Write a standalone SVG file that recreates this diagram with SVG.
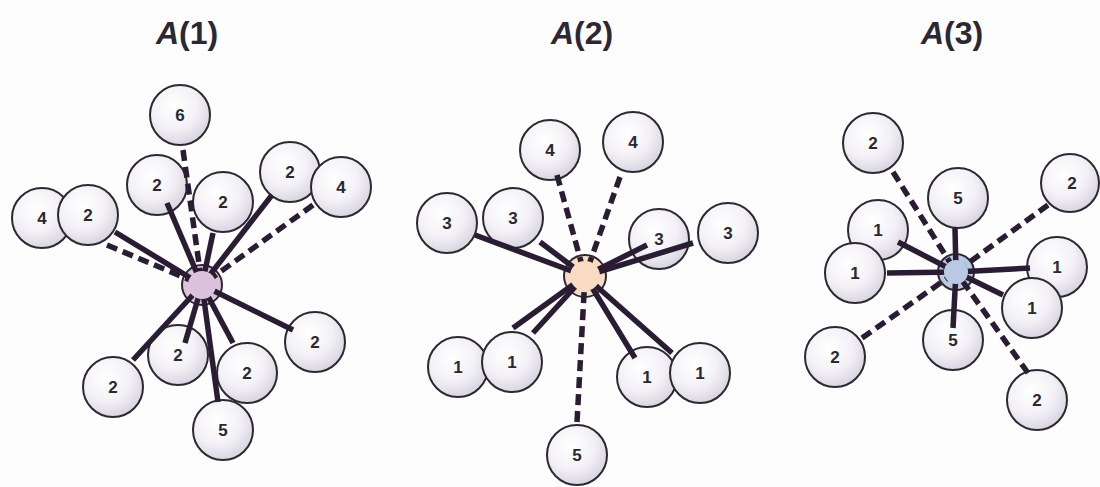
<svg xmlns="http://www.w3.org/2000/svg" width="1100" height="487" viewBox="0 0 1100 487">
  <defs>
    <radialGradient id="leafFill" cx="0.4" cy="0.35" r="0.7">
      <stop offset="0" stop-color="#ffffff"/>
      <stop offset="0.55" stop-color="#f3f1f6"/>
      <stop offset="1" stop-color="#d6d1de"/>
    </radialGradient>
    <mask id="hubMask" maskUnits="userSpaceOnUse" x="0" y="0" width="1100" height="487">
      <rect x="0" y="0" width="1100" height="487" fill="#fff"/>
      <circle cx="202" cy="285" r="14" fill="#000"/>
      <circle cx="585" cy="276" r="15" fill="#000"/>
      <circle cx="956" cy="272" r="12" fill="#000"/>
    </mask>
  </defs>
  <style>
    .leaf circle { fill: url(#leafFill); stroke: #2b2831; stroke-width: 2; }
    .leaf text { font-family: "Liberation Sans", Arial, sans-serif; font-weight: bold; font-size: 17px; fill: #2b2831; text-anchor: middle; }
    .hub { stroke: #2b2831; stroke-width: 2; }
    .title { font-family: "Liberation Sans", Arial, sans-serif; font-weight: bold; font-size: 32px; fill: #2b2733; text-anchor: middle; }
    .edge { stroke: #2a1d33; stroke-width: 5.5; fill: none; }
    .dash { stroke-dasharray: 11 6; }
  </style>
  <rect x="0" y="0" width="1100" height="487" fill="#fdfdfd"/>

  <text class="title" x="187" y="44"><tspan font-style="italic">A</tspan>(1)</text>
  <text class="title" x="582" y="44"><tspan font-style="italic">A</tspan>(2)</text>
  <text class="title" x="952" y="44"><tspan font-style="italic">A</tspan>(3)</text>

  <!-- Panel 1 leaves -->
  <g id="p1-n6" class="leaf"><circle cx="180" cy="115" r="30"/><text x="180" y="121">6</text></g>
  <g id="p1-a" class="leaf"><circle cx="157" cy="185" r="30"/><text x="157" y="191">2</text></g>
  <g id="p1-b" class="leaf"><circle cx="223" cy="202" r="30"/><text x="223" y="208">2</text></g>
  <g id="p1-c" class="leaf"><circle cx="290" cy="172" r="30"/><text x="290" y="178">2</text></g>
  <g id="p1-d" class="leaf"><circle cx="341" cy="187" r="30"/><text x="341" y="193">4</text></g>
  <g id="p1-e" class="leaf"><circle cx="42" cy="218" r="30"/><text x="42" y="224">4</text></g>
  <g id="p1-f" class="leaf"><circle cx="88" cy="215" r="30"/><text x="88" y="221">2</text></g>
  <g id="p1-g" class="leaf"><circle cx="315" cy="342" r="30"/><text x="315" y="348">2</text></g>
  <g id="p1-h" class="leaf"><circle cx="113" cy="387" r="30"/><text x="113" y="393">2</text></g>
  <g id="p1-i" class="leaf"><circle cx="178" cy="355" r="30"/><text x="178" y="361">2</text></g>
  <g id="p1-j" class="leaf"><circle cx="247" cy="373" r="30"/><text x="247" y="379">2</text></g>
  <g id="p1-k" class="leaf"><circle cx="223" cy="430" r="30"/><text x="223" y="436">5</text></g>
  <g id="p1-hub"><circle class="hub" cx="202" cy="285" r="20" fill="#dcc2dc"/></g>

  <!-- Panel 2 leaves -->
  <g id="p2-4a" class="leaf"><circle cx="550" cy="150" r="30"/><text x="550" y="156">4</text></g>
  <g id="p2-4b" class="leaf"><circle cx="633" cy="142" r="30"/><text x="633" y="148">4</text></g>
  <g id="p2-3a" class="leaf"><circle cx="447" cy="223" r="30"/><text x="447" y="229">3</text></g>
  <g id="p2-3b" class="leaf"><circle cx="513" cy="218" r="30"/><text x="513" y="224">3</text></g>
  <g id="p2-3c" class="leaf"><circle cx="659" cy="239" r="30"/><text x="659" y="245">3</text></g>
  <g id="p2-3d" class="leaf"><circle cx="728" cy="233" r="30"/><text x="728" y="239">3</text></g>
  <g id="p2-1a" class="leaf"><circle cx="458" cy="367" r="30"/><text x="458" y="373">1</text></g>
  <g id="p2-1b" class="leaf"><circle cx="512" cy="362" r="30"/><text x="512" y="368">1</text></g>
  <g id="p2-1c" class="leaf"><circle cx="647" cy="377" r="30"/><text x="647" y="383">1</text></g>
  <g id="p2-1d" class="leaf"><circle cx="700" cy="373" r="30"/><text x="700" y="379">1</text></g>
  <g id="p2-5" class="leaf"><circle cx="577" cy="455" r="30"/><text x="577" y="461">5</text></g>
  <g id="p2-hub"><circle class="hub" cx="585" cy="276" r="21" fill="#f8dbc2"/></g>

  <!-- Panel 3 leaves -->
  <g id="p3-2a" class="leaf"><circle cx="873" cy="143" r="30"/><text x="873" y="149">2</text></g>
  <g id="p3-5a" class="leaf"><circle cx="958" cy="198" r="30"/><text x="958" y="204">5</text></g>
  <g id="p3-2b" class="leaf"><circle cx="1070" cy="183" r="29"/><text x="1072" y="189">2</text></g>
  <g id="p3-1a" class="leaf"><circle cx="878" cy="230" r="30"/><text x="878" y="236">1</text></g>
  <g id="p3-1b" class="leaf"><circle cx="855" cy="273" r="30"/><text x="855" y="279">1</text></g>
  <g id="p3-1c" class="leaf"><circle cx="1057" cy="267" r="30"/><text x="1057" y="273">1</text></g>
  <g id="p3-1d" class="leaf"><circle cx="1032" cy="308" r="30"/><text x="1032" y="314">1</text></g>
  <g id="p3-5b" class="leaf"><circle cx="953" cy="340" r="30"/><text x="953" y="346">5</text></g>
  <g id="p3-2c" class="leaf"><circle cx="835" cy="357" r="30"/><text x="835" y="363">2</text></g>
  <g id="p3-2d" class="leaf"><circle cx="1037" cy="400" r="30"/><text x="1037" y="406">2</text></g>
  <g id="p3-hub"><circle class="hub" cx="956" cy="272" r="18" fill="#b9c9e4"/></g>

  <!-- Connectors -->
  <g id="connectors" mask="url(#hubMask)">
    <line class="edge dash" x1="183" y1="150" x2="202" y2="285"/>
    <line class="edge" x1="167" y1="203" x2="202" y2="285"/>
    <line class="edge" x1="213" y1="233" x2="202" y2="285"/>
    <line class="edge" x1="272" y1="195" x2="202" y2="285"/>
    <line class="edge dash" x1="313" y1="205" x2="202" y2="285"/>
    <line class="edge dash" x1="107" y1="245" x2="202" y2="285"/>
    <line class="edge" x1="115" y1="232" x2="202" y2="285"/>
    <line class="edge" x1="293" y1="330" x2="202" y2="285"/>
    <line class="edge" x1="133" y1="360" x2="202" y2="285"/>
    <line class="edge" x1="185" y1="343" x2="202" y2="285"/>
    <line class="edge" x1="233" y1="343" x2="202" y2="285"/>
    <line class="edge" x1="218" y1="402" x2="202" y2="285"/>

    <line class="edge dash" x1="557" y1="175" x2="585" y2="276"/>
    <line class="edge dash" x1="620" y1="177" x2="585" y2="276"/>
    <line class="edge" x1="475" y1="235" x2="585" y2="276"/>
    <line class="edge" x1="540" y1="242" x2="585" y2="276"/>
    <line class="edge" x1="647" y1="245" x2="585" y2="276"/>
    <line class="edge" x1="693" y1="243" x2="585" y2="276"/>
    <line class="edge" x1="513" y1="328" x2="585" y2="276"/>
    <line class="edge" x1="533" y1="333" x2="585" y2="276"/>
    <line class="edge" x1="635" y1="358" x2="585" y2="276"/>
    <line class="edge" x1="672" y1="353" x2="585" y2="276"/>
    <line class="edge dash" x1="577" y1="422" x2="585" y2="276"/>

    <line class="edge dash" x1="893" y1="172" x2="956" y2="272"/>
    <line class="edge" x1="955" y1="228" x2="956" y2="272"/>
    <line class="edge dash" x1="1048" y1="205" x2="956" y2="272"/>
    <line class="edge" x1="898" y1="242" x2="956" y2="272"/>
    <line class="edge" x1="887" y1="273" x2="956" y2="272"/>
    <line class="edge" x1="1030" y1="268" x2="956" y2="272"/>
    <line class="edge" x1="1003" y1="295" x2="956" y2="272"/>
    <line class="edge" x1="953" y1="328" x2="956" y2="272"/>
    <line class="edge dash" x1="862" y1="338" x2="956" y2="272"/>
    <line class="edge dash" x1="1028" y1="373" x2="956" y2="272"/>
  </g>
</svg>
